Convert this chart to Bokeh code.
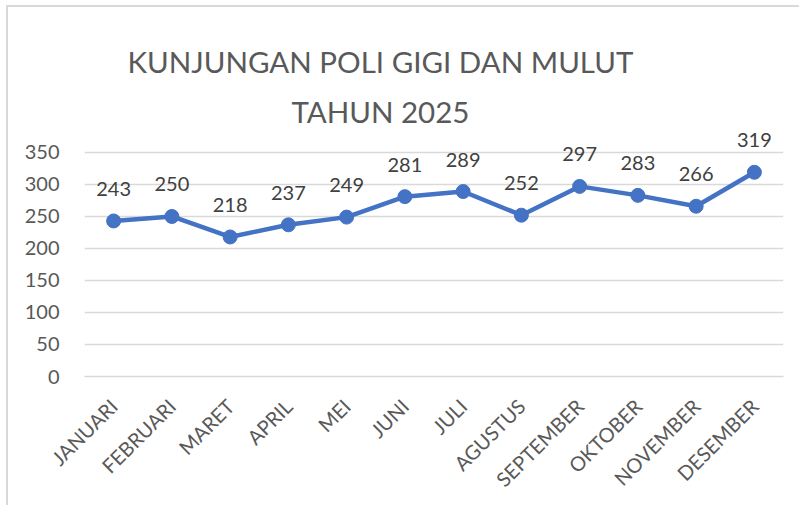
import math
from bokeh.plotting import figure
from bokeh.models import FactorRange, Range1d, FixedTicker, Label, ColumnDataSource
from bokeh.core.properties import value
from bokeh.embed import file_html
from bokeh.resources import INLINE

months = ["JANUARI", "FEBRUARI", "MARET", "APRIL", "MEI", "JUNI", "JULI",
          "AGUSTUS", "SEPTEMBER", "OKTOBER", "NOVEMBER", "DESEMBER"]
visits = [243, 250, 218, 237, 249, 281, 289, 252, 297, 283, 266, 319]
y_ticks = [0, 50, 100, 150, 200, 250, 300, 350]
title_lines = ["KUNJUNGAN POLI GIGI DAN MULUT", "TAHUN 2025"]

FONT = "Lato"
TXT = "#595959"
BLUE = "#4472C4"
GRID = "#d9d9d9"

src = ColumnDataSource(dict(x=months, y=visits, lbl=[str(v) for v in visits]))

p = figure(width=793, height=500, output_backend="svg", toolbar_location=None,
           x_range=FactorRange(*months, range_padding=0),
           y_range=Range1d(0, 576.5),
           min_border_left=76, min_border_right=18, min_border_top=0,
           min_border_bottom=131)
p.outline_line_color = None
p.background_fill_color = "white"
p.border_fill_color = "white"
p.styles = {"border-left": "2px solid #d9d9d9", "border-top": "2px solid #d9d9d9",
            "margin-left": "6px", "margin-top": "5px"}

p.xgrid.grid_line_color = None
p.ygrid.grid_line_color = GRID
p.ygrid.grid_line_width = 1.5

p.yaxis.ticker = FixedTicker(ticks=y_ticks)
p.yaxis.axis_line_color = None
p.yaxis.major_tick_line_color = None
p.yaxis.minor_tick_line_color = None
p.yaxis.major_label_standoff = 19
p.yaxis.major_label_text_font = FONT
p.yaxis.major_label_text_font_size = "20px"
p.yaxis.major_label_text_color = TXT

p.xaxis.axis_line_color = GRID
p.xaxis.axis_line_width = 1.5
p.xaxis.major_tick_line_color = None
p.xaxis.minor_tick_line_color = None
p.xaxis.major_label_orientation = math.pi / 4
p.xaxis.major_label_standoff = 20
p.xaxis.major_label_text_font = FONT
p.xaxis.major_label_text_font_size = "20px"
p.xaxis.major_label_text_color = TXT

p.line("x", "y", source=src, line_color=BLUE, line_width=4.5, line_join="round")
p.scatter("x", "y", source=src, size=14, fill_color=BLUE, line_color=BLUE)
p.text("x", "y", text="lbl", source=src, y_offset=-32,
       text_align="center", text_baseline="middle",
       text_font=value(FONT), text_font_size="20px", text_color="#404040")

for txt, ty in zip(title_lines, [491.5, 414.5]):
    p.add_layout(Label(x=5.08, y=ty, text=txt, text_align="center",
                       text_baseline="middle", text_font=FONT,
                       text_font_size="29.5px", text_color=TXT))

open("out.html", "w").write(file_html(p, INLINE))
